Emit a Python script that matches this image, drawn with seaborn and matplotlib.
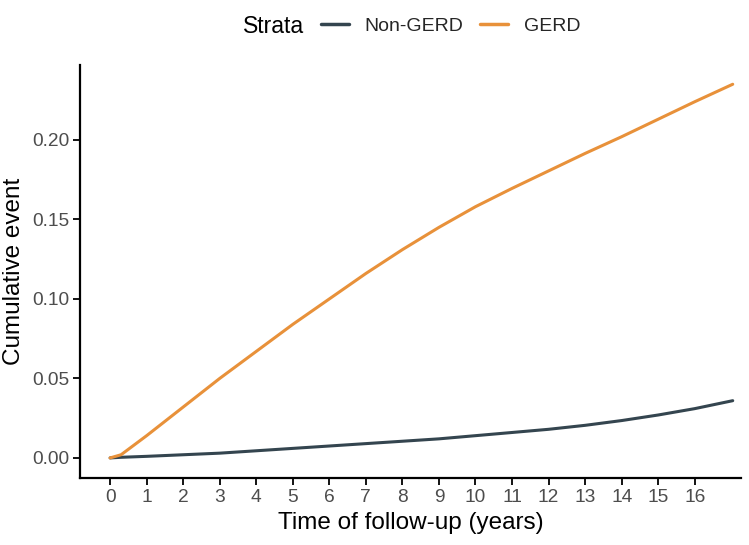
import matplotlib
matplotlib.use("Agg")
import matplotlib.pyplot as plt
import seaborn as sns
import pandas as pd
import numpy as np

time_years = [0, 0.3, 1, 2, 3, 4, 5, 6, 7, 8, 9, 10, 11, 12, 13, 14, 15, 16, 17.04]
non_gerd = [0, 0.0004, 0.001, 0.002, 0.003, 0.0045, 0.006, 0.0075, 0.009, 0.0105,
            0.012, 0.014, 0.016, 0.018, 0.0205, 0.0235, 0.027, 0.031, 0.036]
gerd = [0, 0.002, 0.014, 0.032, 0.050, 0.067, 0.084, 0.100, 0.116, 0.131,
        0.145, 0.158, 0.1695, 0.1805, 0.1915, 0.202, 0.213, 0.224, 0.235]
strata = ["Non-GERD", "GERD"]
colors = ["#34454F", "#E8913A"]
x_ticks = list(range(0, 17))
y_ticks = [0.00, 0.05, 0.10, 0.15, 0.20]

df = pd.DataFrame({
    "time": time_years * 2,
    "cum": non_gerd + gerd,
    "Strata": [strata[0]] * len(time_years) + [strata[1]] * len(time_years),
})

sns.set_theme(style="white")
plt.rcParams["font.family"] = ["Liberation Sans", "DejaVu Sans"]

fig = plt.figure(figsize=(7.49, 5.45), dpi=100)
ax = fig.add_axes([0.107, 0.123, 0.882, 0.758])
sns.lineplot(data=df, x="time", y="cum", hue="Strata", hue_order=strata,
             palette=colors, linewidth=2.2, ax=ax, legend=True)

ax.set_xlim(-0.82, 17.26)
ax.set_ylim(-0.0126, 0.2472)
ax.set_xticks(x_ticks)
ax.set_xticklabels([str(t) for t in x_ticks])
ax.set_yticks(y_ticks)
ax.set_yticklabels([f"{v:.2f}" for v in y_ticks])
ax.tick_params(axis="both", which="major", length=5, width=1.3, color="black",
               labelsize=13.8, labelcolor="#4D4D4D", bottom=True, left=True, pad=3)
for side in ["top", "right"]:
    ax.spines[side].set_visible(False)
for side in ["left", "bottom"]:
    ax.spines[side].set_linewidth(1.6)
    ax.spines[side].set_color("black")
ax.set_xlabel("Time of follow-up (years)", fontsize=17.5, color="black", labelpad=4)
ax.set_ylabel("Cumulative event", fontsize=17.5, color="black", labelpad=5)

handles, labels = ax.get_legend_handles_labels()
ax.get_legend().remove()
fig.text(0.324, 0.952, "Strata", fontsize=16.5, ha="left", va="center", color="black")
leg = fig.legend(handles, labels, loc="center left", bbox_to_anchor=(0.428, 0.952),
                 ncol=2, frameon=False, fontsize=14, handlelength=1.45,
                 columnspacing=0.87, handletextpad=0.8, borderaxespad=0, borderpad=0)
for h in leg.get_lines():
    h.set_linewidth(2.5)

fig.savefig("out.png", dpi=100)
